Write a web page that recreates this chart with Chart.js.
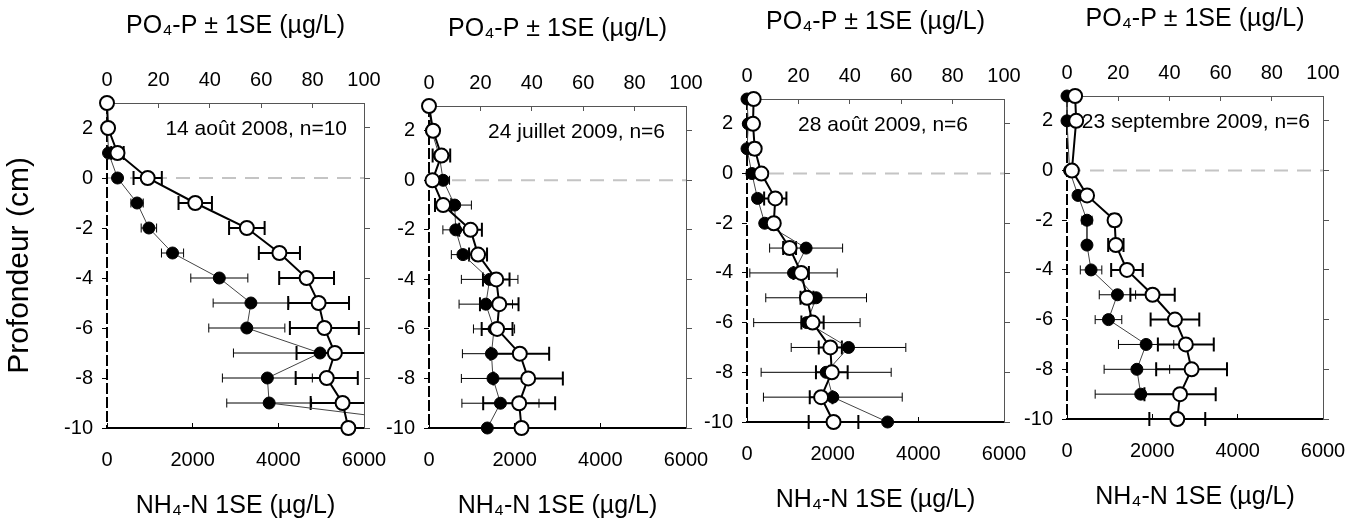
<!DOCTYPE html>
<html>
<head>
<meta charset="utf-8">
<script src="https://cdn.jsdelivr.net/npm/chart.js@4.4.1/dist/chart.umd.min.js"></script>
<style>
  html, body { margin: 0; padding: 0; background: #fff; overflow: hidden; }
  #wrap { position: relative; width: 1346px; height: 526px; overflow: hidden; }
  #wrap canvas { position: absolute; top: 0; }
</style>
</head>
<body>
<div id="wrap"></div>
<script>
// Depth of each sample (cm), from surface water down into the sediment
const depths = [3, 2, 1, 0, -1, -2, -3, -4, -5, -6, -7, -8, -9, -10];

const depthTicks = [2, 0, -2, -4, -6, -8, -10];
const po4Ticks = [0, 20, 40, 60, 80, 100];
const nh4Ticks = [0, 2000, 4000, 6000];

const panelLabels = ['14 août 2008, n=10', '24 juillet 2009, n=6', '28 août 2009, n=6', '23 septembre 2009, n=6'];

// PO4-P (filled circles, top axis) and its standard error
const po4Aug08 = [0, 0.2, 0.6, 4.1, 11.7, 16.3, 25.5, 43.7, 56.0, 54.4, 82.9, 62.4, 63.1, 142];
const po4ErrAug08 = [0, 0, 0, 0.5, 2.4, 3.0, 4.3, 11.1, 14.7, 14.8, 33.7, 17.5, 16.5, 0];
const po4Jul09 = [0, 1.0, 4.0, 5.5, 10.0, 10.4, 13.2, 23.6, 22.1, 25.3, 24.3, 24.9, 27.8, 22.7];
const po4ErrJul09 = [0, 0, 0, 2.5, 6.5, 5.0, 4.5, 11.0, 10.4, 8.0, 11.3, 12.3, 15.0, 0];
const po4Aug09 = [0, 0.5, 0, 1.9, 4.1, 6.9, 23.0, 18.1, 26.9, 23.3, 39.5, 30.8, 33.4, 54.7];
const po4ErrAug09 = [0, 0, 0, 0, 1.0, 1.5, 14.2, 17.0, 19.6, 20.7, 22.3, 25.3, 27.0, 0];
const po4Sep09 = [0, 0, null, 1.0, 4.3, 7.8, 7.8, 9.4, 19.7, 16.2, 30.9, 27.3, 28.8, null];
const po4ErrSep09 = [0, 0, 0, 0, 1.0, 2.0, 1.5, 4.2, 7.1, 5.2, 10.8, 12.8, 17.8, 0];

// NH4-N (open circles, bottom axis) and its standard error
const nh4Aug08 = [0, 25, 245, 950, 2060, 3265, 4025, 4660, 4940, 5075, 5320, 5130, 5500, 5635];
const nh4ErrAug08 = [0, 0, 145, 330, 390, 415, 480, 640, 710, 805, 895, 725, 745, 0];
const nh4Jul09 = [0, 95, 290, 80, 330, 970, 1145, 1570, 1640, 1590, 2120, 2315, 2105, 2160];
const nh4ErrJul09 = [0, 0, 205, 0, 190, 265, 210, 310, 450, 360, 685, 810, 840, 0];
const nh4Aug09 = [155, 140, 180, 335, 660, 625, 995, 1265, 1400, 1530, 1945, 1980, 1730, 2020];
const nh4ErrAug09 = [0, 0, 90, 0, 260, 60, 150, 180, 150, 260, 270, 370, 265, 580];
const nh4Sep09 = [190, 215, null, 115, 470, 1115, 1145, 1405, 2005, 2530, 2785, 2920, 2650, 2585];
const nh4ErrSep09 = [0, 0, 0, 0, 0, 90, 180, 370, 520, 570, 655, 830, 835, 655];

const panels = [
    { po4: po4Aug08, po4Err: po4ErrAug08, nh4: nh4Aug08, nh4Err: nh4ErrAug08 },
    { po4: po4Jul09, po4Err: po4ErrJul09, nh4: nh4Jul09, nh4Err: nh4ErrJul09 },
    { po4: po4Aug09, po4Err: po4ErrAug09, nh4: nh4Aug09, nh4Err: nh4ErrAug09 },
    { po4: po4Sep09, po4Err: po4ErrSep09, nh4: nh4Sep09, nh4Err: nh4ErrSep09 }
];

// page placement of each panel: canvas span and plot box
const boxes = [
    { cl: 0, cr: 392, l: 107, r: 364, t: 103, b: 428, note: 17 },
    { cl: 370, cr: 714, l: 429, r: 686, t: 106, b: 428, note: 21 },
    { cl: 690, cr: 1032, l: 747, r: 1004, t: 99, b: 422, note: 36 },
    { cl: 1010, cr: 1352, l: 1067, r: 1323, t: 96, b: 419, note: 13 }
];

const FONT = '"Liberation Sans", Arial, sans-serif';
const H = 526;
Chart.defaults.font.family = FONT;
Chart.defaults.color = '#000';

const toPoints = (vals) => depths.map((d, i) => ({ x: vals[i], y: d }));

const profilePlugin = {
    id: 'profile',
    beforeDatasetsDraw(chart, args, opts) {
        const { ctx, chartArea: a, scales } = chart;

        // dashed sediment-water interface at 0 cm
        const y0 = scales.y.getPixelForValue(0);
        ctx.save();
        ctx.strokeStyle = '#c4c4c4';
        ctx.lineWidth = 2;
        ctx.setLineDash([14, 9]);
        ctx.beginPath();
        ctx.moveTo(a.left, y0);
        ctx.lineTo(a.right, y0);
        ctx.stroke();
        ctx.restore();

        // left axis drawn as a dashed black line
        ctx.save();
        ctx.strokeStyle = '#000';
        ctx.lineWidth = 2;
        ctx.setLineDash([11, 3]);
        ctx.beginPath();
        ctx.moveTo(a.left, a.top);
        ctx.lineTo(a.left, a.bottom);
        ctx.stroke();
        ctx.restore();

        // date label (under the markers, as in the original)
        ctx.save();
        ctx.font = '21px ' + FONT;
        ctx.fillStyle = '#000';
        ctx.textAlign = 'right';
        ctx.textBaseline = 'middle';
        ctx.fillText(opts.text, a.right - opts.offset, scales.y.getPixelForValue(2) + 1);
        ctx.restore();

        // horizontal error bars
        ctx.save();
        ctx.beginPath();
        ctx.rect(a.left - 1, a.top - 20, a.right - a.left + 1, a.bottom - a.top + 40);
        ctx.clip();
        chart.data.datasets.forEach(ds => {
            const xs = scales[ds.xAxisID];
            ctx.strokeStyle = '#000';
            ctx.lineWidth = ds.errWidth;
            ds.data.forEach((p, i) => {
                const e = ds.errors[i];
                if (p.x == null || !e) return;
                const y = scales.y.getPixelForValue(p.y);
                const x1 = xs.getPixelForValue(p.x - e);
                const x2 = xs.getPixelForValue(p.x + e);
                const c = ds.capSize;
                ctx.beginPath();
                ctx.moveTo(x1, y); ctx.lineTo(x2, y);
                ctx.moveTo(x1, y - c); ctx.lineTo(x1, y + c);
                ctx.moveTo(x2, y - c); ctx.lineTo(x2, y + c);
                ctx.stroke();
            });
        });
        ctx.restore();
    }
};

function buildPanel(idx) {
    const p = panels[idx];
    const b = boxes[idx];
    const w = b.cr - b.cl;

    const canvas = document.createElement('canvas');
    canvas.width = w;
    canvas.height = H;
    canvas.style.left = b.cl + 'px';
    canvas.style.width = w + 'px';
    canvas.style.height = H + 'px';
    document.getElementById('wrap').appendChild(canvas);

    const tickFont = { size: 20 };
    const titleFont = { size: 25 };
    const lh = 25 * 1.2;
    const tickLh = 20 * 1.2;

    new Chart(canvas.getContext('2d'), {
        type: 'scatter',
        data: {
            datasets: [
                {
                    label: 'NH4-N',
                    data: toPoints(p.nh4),
                    errors: p.nh4Err,
                    errWidth: 2,
                    capSize: 7,
                    xAxisID: 'x',
                    yAxisID: 'y',
                    showLine: true,
                    spanGaps: true,
                    borderColor: '#000',
                    borderWidth: 2,
                    pointRadius: 7,
                    pointBorderWidth: 2,
                    pointBackgroundColor: '#fff',
                    pointBorderColor: '#000',
                    clip: { left: 12, top: 12, right: 0, bottom: 12 }
                },
                {
                    label: 'PO4-P',
                    data: toPoints(p.po4),
                    errors: p.po4Err,
                    errWidth: 1,
                    capSize: 4.5,
                    xAxisID: 'x2',
                    yAxisID: 'y',
                    showLine: true,
                    spanGaps: true,
                    borderColor: '#444',
                    borderWidth: 1,
                    pointRadius: 6,
                    pointBorderWidth: 1,
                    pointBackgroundColor: '#000',
                    pointBorderColor: '#000',
                    clip: { left: 12, top: 12, right: 0, bottom: 12 }
                }
            ]
        },
        options: {
            responsive: false,
            animation: false,
            events: [],
            layout: { padding: 0 },
            plugins: {
                legend: { display: false },
                tooltip: { enabled: false },
                profile: { text: panelLabels[idx], offset: b.note }
            },
            scales: {
                x: {
                    type: 'linear',
                    position: 'bottom',
                    min: 0,
                    max: 6000,
                    afterBuildTicks: (s) => { s.ticks = nh4Ticks.map(v => ({ value: v })); },
                    afterFit: (s) => { s.height = H - b.b; s.paddingLeft = 0; s.paddingRight = 0; },
                    ticks: { font: tickFont, padding: 37 - tickLh / 2, maxRotation: 0, callback: (v) => String(v) },
                    grid: { drawOnChartArea: false, tickLength: -5, tickColor: '#000', tickWidth: 1 },
                    border: { color: '#000', width: 2 },
                    title: {
                        display: true,
                        text: 'NH₄-N 1SE (µg/L)',
                        font: titleFont,
                        padding: { top: 0, bottom: H - (b.b + 78) - lh / 2 }
                    }
                },
                x2: {
                    type: 'linear',
                    axis: 'x',
                    position: 'top',
                    min: 0,
                    max: 100,
                    afterBuildTicks: (s) => { s.ticks = po4Ticks.map(v => ({ value: v })); },
                    afterFit: (s) => { s.height = b.t; s.paddingLeft = 0; s.paddingRight = 0; },
                    ticks: { font: tickFont, padding: 28 - tickLh / 2, maxRotation: 0, callback: (v) => String(v) },
                    grid: { drawOnChartArea: false, tickLength: -5, tickColor: '#555', tickWidth: 1 },
                    border: { color: '#555', width: 1 },
                    title: {
                        display: true,
                        text: 'PO₄-P ± 1SE (µg/L)',
                        font: titleFont,
                        padding: { top: b.t - 77 - lh / 2, bottom: 0 }
                    }
                },
                y: {
                    type: 'linear',
                    position: 'left',
                    min: -10,
                    max: 3,
                    afterBuildTicks: (s) => { s.ticks = depthTicks.map(v => ({ value: v })); },
                    afterFit: (s) => { s.width = b.l - b.cl; },
                    ticks: { font: tickFont, padding: 9, callback: (v) => String(v) },
                    grid: { drawOnChartArea: false, tickLength: 5, tickColor: '#000' },
                    border: { display: false },
                    title: {
                        display: idx === 0,
                        text: 'Profondeur (cm)',
                        font: { size: 30 },
                        padding: { top: 2, bottom: 0 }
                    }
                },
                y2: {
                    type: 'linear',
                    axis: 'y',
                    position: 'right',
                    min: -10,
                    max: 3,
                    afterBuildTicks: (s) => { s.ticks = depthTicks.map(v => ({ value: v })); },
                    afterFit: (s) => { s.width = b.cr - b.r; },
                    ticks: { display: false },
                    grid: { drawOnChartArea: false, tickLength: 6, tickColor: '#555' },
                    border: { color: '#555', width: 1 }
                }
            }
        },
        plugins: [profilePlugin]
    });
}

panels.forEach((_, i) => buildPanel(i));
</script>
</body>
</html>
